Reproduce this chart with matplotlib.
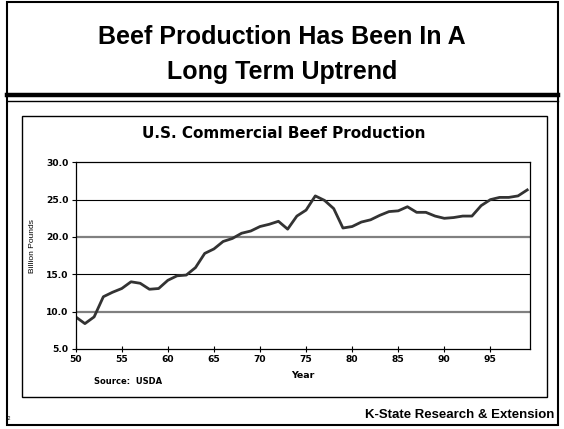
import matplotlib
matplotlib.use("Agg")
import matplotlib.pyplot as plt
from matplotlib.patches import Rectangle
from matplotlib.lines import Line2D

# Commercial beef production, billion pounds
years = list(range(50, 100))
production = [9.3, 8.4, 9.3, 12.0, 12.6, 13.1, 14.0, 13.8, 13.0, 13.1,
              14.2, 14.8, 14.9, 15.9, 17.8, 18.4, 19.4, 19.8, 20.5, 20.8,
              21.4, 21.7, 22.1, 21.05, 22.8, 23.6, 25.5, 24.9, 23.8, 21.2,
              21.4, 22.0, 22.3, 22.9, 23.4, 23.5, 24.05, 23.3, 23.3, 22.8,
              22.5, 22.6, 22.8, 22.8, 24.2, 25.0, 25.3, 25.3, 25.5, 26.3]
x_ticks = [50, 55, 60, 65, 70, 75, 80, 85, 90, 95]
y_ticks = [5.0, 10.0, 15.0, 20.0, 25.0, 30.0]

plt.rcParams['font.family'] = ['Liberation Sans', 'DejaVu Sans']
wide = ['DejaVu Sans']  # the chart's small text is drawn wide in the original

W, H = 564, 429
fig = plt.figure(figsize=(W / 100, H / 100), dpi=100)

def fx(px):
    return px / W

def fy(py):
    return 1 - py / H

# outer slide frame
fig.patches.append(Rectangle((fx(7), fy(425)), fx(551), 423 / H, transform=fig.transFigure,
                             fill=False, edgecolor='black', linewidth=1.5))
# double rule under the title
fig.lines.append(Line2D([fx(7), fx(558)], [fy(95), fy(95)], transform=fig.transFigure,
                        color='black', linewidth=3.2))
fig.lines.append(Line2D([fx(7), fx(558)], [fy(100.5), fy(100.5)], transform=fig.transFigure,
                        color='black', linewidth=1.0))
# inner chart box
fig.patches.append(Rectangle((fx(21.5), fy(397)), fx(525), 281 / H, transform=fig.transFigure,
                             fill=False, edgecolor='black', linewidth=1.0))

fig.text(0.5, fy(37), "Beef Production Has Been In A", ha='center', va='center',
         fontsize=18, fontweight='bold')
fig.text(0.5, fy(72), "Long Term Uptrend", ha='center', va='center',
         fontsize=18, fontweight='bold')
fig.text(fx(283.5), fy(133), "U.S. Commercial Beef Production", ha='center', va='center',
         fontsize=11, fontweight='bold', family=wide)
fig.text(fx(94), fy(381), "Source:  USDA", ha='left', va='center',
         fontsize=6, fontweight='bold', family=wide)
fig.text(fx(554), fy(415), "K-State Research & Extension", ha='right', va='center',
         fontsize=9.5, fontweight='bold')
fig.text(fx(6), fy(418), "42", ha='left', va='center', fontsize=3.5)
fig.text(fx(33), fy(246), "Billion Pounds", ha='center', va='center',
         fontsize=6, rotation=90)

ax = fig.add_axes([fx(75.7), fy(349), (530 - 75.7) / W, (349 - 162.3) / H])
ax.plot(years, production, color='#333333', linewidth=2.0, solid_joinstyle='round')
ax.set_xlim(50, 99.3)
ax.set_ylim(5, 30)

for v in [10, 20]:
    ax.axhline(v, color='#808080', linewidth=1.6, zorder=0)
for v in [15, 25]:
    ax.axhline(v, color='black', linewidth=0.8, zorder=0)

ax.set_xticks(x_ticks)
ax.set_xticklabels([str(t) for t in x_ticks], fontsize=6.6, fontweight='bold', family=wide)
ax.set_yticks(y_ticks)
ax.set_yticklabels(["%.1f" % t for t in y_ticks], fontsize=6.6, fontweight='bold', family=wide)
ax.tick_params(axis='x', direction='inout', length=5, width=0.8, pad=2)
ax.tick_params(axis='y', direction='out', length=3, width=0.8, pad=2)
for s in ax.spines.values():
    s.set_linewidth(0.9)
ax.set_xlabel("Year", fontsize=6.8, fontweight='bold', family=wide, labelpad=5)

fig.savefig("out.png", dpi=100)
